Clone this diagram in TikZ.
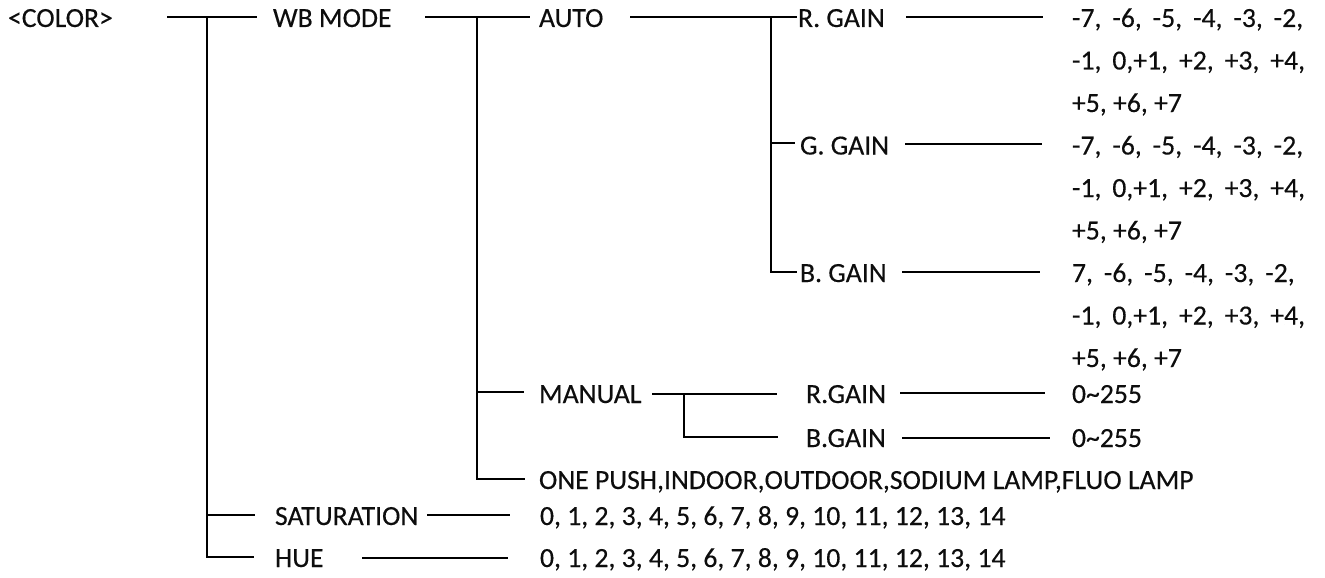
\documentclass[tikz,border=0pt]{standalone}
\usepackage{fontspec}
\setmainfont[FakeBold=0.3]{Carlito}
\newcommand\gp{\hspace{10.9pt}}
\begin{document}
\begin{tikzpicture}[x=1pt,y=-1pt,
  lbl/.style={anchor=base west,inner sep=0pt,outer sep=0pt,text=black!95,font=\fontsize{27.7}{32}\selectfont},
  conn/.style={line width=2.6pt,black,line cap=butt}]
\useasboundingbox (0,0) rectangle (1325,578);
% texts
\node[lbl] (color) at (8,27) {<COLOR>};
\node[lbl] (wb) at (273,27) {WB MODE};
\node[lbl] (auto) at (539,27) {AUTO};
\node[lbl] (rgain) at (798,27) {R. GAIN};
\node[lbl] (gg) at (800,154.5) {G. GAIN};
\node[lbl] (bg) at (800,282) {B. GAIN};
\node[lbl] (v1) at (1072,27) {-7,\gp-6,\gp-5,\gp-4,\gp-3,\gp-2,};
\node[lbl] (v2) at (1072,69.5) {-1,\gp0,+1,\gp+2,\gp+3,\gp+4,};
\node[lbl] (v3) at (1072,112) {+5, +6, +7};
\node[lbl] (v4) at (1072,154.5) {-7,\gp-6,\gp-5,\gp-4,\gp-3,\gp-2,};
\node[lbl] (v5) at (1072,197) {-1,\gp0,+1,\gp+2,\gp+3,\gp+4,};
\node[lbl] (v6) at (1072,239.5) {+5, +6, +7};
\node[lbl] (v7) at (1072,282) {7,\gp-6,\gp-5,\gp-4,\gp-3,\gp-2,};
\node[lbl] (v8) at (1072,324.5) {-1,\gp0,+1,\gp+2,\gp+3,\gp+4,};
\node[lbl] (v9) at (1072,367) {+5, +6, +7};
\node[lbl] (manual) at (539,403) {MANUAL};
\node[lbl] (mr) at (806,403) {R.GAIN};
\node[lbl] (mb) at (806,447) {B.GAIN};
\node[lbl] (mrv) at (1072,403) {0\char`\~255};
\node[lbl] (mbv) at (1072,447) {0\char`\~255};
\node[lbl] (onepush) at (539,489) {ONE PUSH,INDOOR,OUTDOOR,SODIUM LAMP,FLUO LAMP};
\node[lbl] (sat) at (275,525) {SATURATION};
\node[lbl] (hue) at (275,567) {HUE};
\node[lbl] (satv) at (540,525) {0, 1, 2, 3, 4, 5, 6, 7, 8, 9, 10, 11, 12, 13, 14};
\node[lbl] (huev) at (540,567) {0, 1, 2, 3, 4, 5, 6, 7, 8, 9, 10, 11, 12, 13, 14};
% connector coordinates
\coordinate (a1) at (167,17); \coordinate (a2) at (257,17);
\coordinate (t1top) at (207,17); \coordinate (t1bot) at (207,557);
\coordinate (sat1) at (207,515); \coordinate (sat2) at (255,515);
\coordinate (hue2) at (254,557);
\coordinate (b1) at (425,17); \coordinate (b2) at (530,17);
\coordinate (t2top) at (477,17); \coordinate (t2bot) at (477,479);
\coordinate (man1) at (477,392); \coordinate (man2) at (524,392);
\coordinate (op2) at (525,479);
\coordinate (c1) at (630,17); \coordinate (c2) at (797,17);
\coordinate (t3top) at (771,17); \coordinate (t3bot) at (771,272);
\coordinate (g1) at (771,143); \coordinate (g2) at (795,143);
\coordinate (bb2) at (797,272);
\coordinate (r1) at (906,17); \coordinate (r2) at (1043,17);
\coordinate (gl1) at (905,144); \coordinate (gl2) at (1042,144);
\coordinate (bl1) at (902,272); \coordinate (bl2) at (1040,272);
\coordinate (m1) at (652,394); \coordinate (m2) at (777,394);
\coordinate (t4top) at (684,394); \coordinate (t4bot) at (684,437);
\coordinate (mb2) at (778,437);
\coordinate (mr1) at (900,393); \coordinate (mr2) at (1045,393);
\coordinate (mbl1) at (902,438); \coordinate (mbl2) at (1050,438);
\coordinate (s1) at (427,515); \coordinate (s2) at (510,515);
\coordinate (h1) at (362,558); \coordinate (h2) at (508,558);
% connectors
\draw[conn] (a1) -- (a2);
\draw[conn] (t1top) -- (t1bot) -- (hue2);
\draw[conn] (sat1) -- (sat2);
\draw[conn] (b1) -- (b2);
\draw[conn] (t2top) -- (t2bot) -- (op2);
\draw[conn] (man1) -- (man2);
\draw[conn] (c1) -- (c2);
\draw[conn] (t3top) -- (t3bot) -- (bb2);
\draw[conn] (g1) -- (g2);
\draw[conn] (r1) -- (r2);
\draw[conn] (gl1) -- (gl2);
\draw[conn] (bl1) -- (bl2);
\draw[conn] (m1) -- (m2);
\draw[conn] (t4top) -- (t4bot) -- (mb2);
\draw[conn] (mr1) -- (mr2);
\draw[conn] (mbl1) -- (mbl2);
\draw[conn] (s1) -- (s2);
\draw[conn] (h1) -- (h2);
\end{tikzpicture}
\end{document}
